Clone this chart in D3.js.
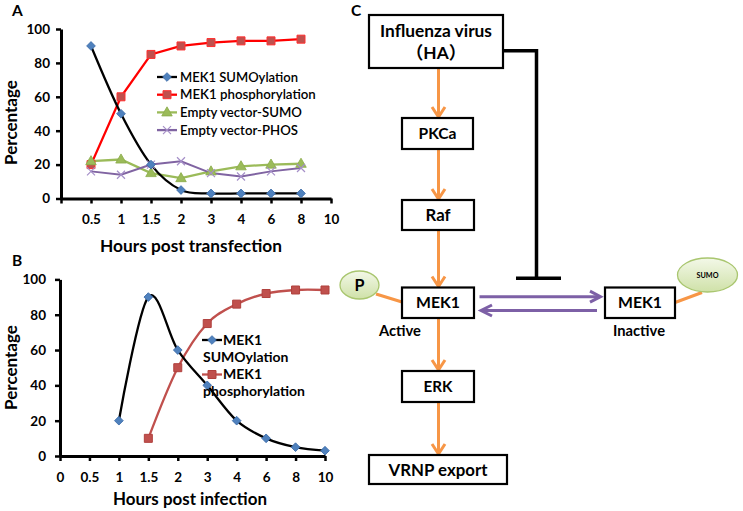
<!DOCTYPE html>
<html><head><meta charset="utf-8">
<script src="https://cdn.jsdelivr.net/npm/d3@7"></script>
<style>
body{margin:0;background:#fff;}
svg{display:block;font-family:Lato,"Noto Sans CJK SC",sans-serif;}
</style></head><body>
<svg id="c" width="743" height="511"></svg>
<script>
// ---------- DATA ----------
const catsA = ["", "0.5", "1", "1.5", "2", "3", "4", "6", "8", "10"];
const sumoA = [null, 90, 50, 20, 5, 3, 3, 3, 3, null];
const phosA = [null, 20, 60, 85, 90, 92, 93, 93, 94, null];
const evSumoA = [null, 22, 23, 15, 12, 16, 19, 20, 20.5, null];
const evPhosA = [null, 16, 14, 20, 22, 15, 13, 16, 18, null];
const legendA = ["MEK1 SUMOylation", "MEK1 phosphorylation", "Empty vector-SUMO", "Empty vector-PHOS"];

const catsB = ["0", "0.5", "1", "1.5", "2", "3", "4", "6", "8", "10"];
const sumoB = [null, null, 20, 90, 60, 40, 20, 10, 5, 3];
const phosB = [null, null, null, 10, 50, 75, 86, 92, 94, 94];
const legendB = [["MEK1", "SUMOylation"], ["MEK1", "phosphorylation"]];

const yTicks = [0, 20, 40, 60, 80, 100];
const nodeLabels = [["Influenza virus", "（HA）"], ["PKCa"], ["Raf"], ["MEK1"], ["MEK1"], ["ERK"], ["VRNP export"]];
const stateLabels = ["Active", "Inactive"];
const tagLabels = ["P", "SUMO"];

// ---------- HELPERS ----------
const svg = d3.select("#c");
const FONT = 'Lato,"Noto Sans CJK SC",sans-serif';
function fit(sel, w) {
  const n = sel.node();
  const fs = parseFloat(sel.attr("font-size"));
  const len = n.getComputedTextLength();
  if (len > 0) sel.attr("font-size", (fs * w / len).toFixed(2));
  return sel;
}
const COL = {blue:"#4f81bd", red:"#ff0000", brick:"#c0504d", green:"#9bbb59", purple:"#8064a2", orange:"#f79646", arrowP:"#7d60a6"};

function drawMarker(g, type, x, y) {
  if (type === "diamond") {
    g.append("path").attr("d", d3.symbol(d3.symbolSquare, 38)()).attr("transform", `translate(${x},${y}) rotate(45)`)
      .attr("fill", COL.blue).attr("stroke", "#3a6aa8").attr("stroke-width", 0.8);
  } else if (type === "square") {
    g.append("path").attr("d", d3.symbol(d3.symbolSquare, 64)()).attr("transform", `translate(${x},${y})`)
      .attr("fill", COL.brick).attr("stroke", "#b0403d").attr("stroke-width", 1);
  } else if (type === "square2") {
    g.append("path").attr("d", d3.symbol(d3.symbolSquare, 64)()).attr("transform", `translate(${x},${y})`)
      .attr("fill", COL.brick).attr("stroke", "#ff3030").attr("stroke-width", 1);
  } else if (type === "triangle") {
    g.append("path").attr("d", d3.symbol(d3.symbolTriangle, 48)()).attr("transform", `translate(${x},${y+0.5})`)
      .attr("fill", COL.green).attr("stroke", "#8aab4a").attr("stroke-width", 0.8);
  } else if (type === "x") {
    const s = 4;
    g.append("path").attr("d", `M${x-s},${y-s}L${x+s},${y+s}M${x-s},${y+s}L${x+s},${y-s}`)
      .attr("stroke", "#a58fc8").attr("stroke-width", 1.2).attr("fill", "none");
  }
}

function drawChart(cfg) {
  const g = svg.append("g");
  const x = d3.scalePoint().domain(cfg.cats.map((c, i) => i)).range(cfg.xr).padding(0);
  const y = d3.scaleLinear().domain([0, 100]).range(cfg.yr);
  const ax = g.append("g").attr("transform", `translate(0,${cfg.yr[0]})`)
    .call(d3.axisBottom(x).tickFormat(i => cfg.cats[i]).tickSize(5).tickSizeOuter(0).tickPadding(cfg.xPad));
  const ay = g.append("g").attr("transform", `translate(${cfg.xr[0]},0)`)
    .call(d3.axisLeft(y).tickValues(yTicks).tickSize(5).tickSizeOuter(0).tickPadding(cfg.yPad));
  [ax, ay].forEach(a => {
    a.select(".domain").attr("stroke", "#000").attr("stroke-width", 3);
    a.selectAll(".tick line").attr("stroke", "#000").attr("stroke-width", 2.5);
    a.selectAll(".tick text").attr("font-family", FONT).attr("font-size", 13.5).attr("font-weight", 700).attr("fill", "#000");
  });
  cfg.series.forEach(s => {
    const pts = s.values.map((v, i) => [i, v]).filter(d => d[1] !== null);
    const line = d3.line().x(d => x(d[0])).y(d => y(d[1])).curve(s.smooth ? d3.curveCatmullRom.alpha(0) : d3.curveLinear);
    g.append("path").datum(pts).attr("d", line).attr("fill", "none").attr("stroke", s.color).attr("stroke-width", s.width || 2.3);
  });
  cfg.series.forEach(s => {
    s.values.forEach((v, i) => { if (v !== null) drawMarker(g, s.marker, x(i), y(v)); });
  });
  const t1 = g.append("text").attr("x", cfg.xTitle[0]).attr("y", cfg.xTitle[1]).attr("text-anchor", "middle")
    .attr("font-size", 17).attr("font-weight", 700).text(cfg.xTitleText);
  fit(t1, cfg.xTitle[2]);
  const t2 = g.append("text").attr("transform", `translate(${cfg.yTitle[0]},${cfg.yTitle[1]}) rotate(-90)`).attr("text-anchor", "middle")
    .attr("font-size", 17).attr("font-weight", 700).text("Percentage");
  fit(t2, cfg.yTitle[2]);
  g.append("text").attr("x", cfg.panel[0]).attr("y", cfg.panel[1]).attr("font-size", 15.5).attr("font-weight", 700).text(cfg.panelText);
  return {g, x, y};
}

// ---------- CHART A ----------
const A = drawChart({
  cats: catsA, xr: [61, 331], yr: [198.5, 29], xPad: 10.5, yPad: 6,
  series: [
    {values: phosA, color: COL.red, marker: "square2"},
    {values: evSumoA, color: COL.green, marker: "triangle"},
    {values: evPhosA, color: COL.purple, marker: "x", width: 2},
    {values: sumoA, color: "#000", marker: "diamond", smooth: true},
  ],
  xTitle: [191, 251.5, 182], xTitleText: "Hours post transfection",
  yTitle: [16.5, 122.5, 85], panel: [12, 16], panelText: "A"
});
const legA = [{c: "#000", m: "diamond"}, {c: COL.red, m: "square2"}, {c: COL.green, m: "triangle"}, {c: COL.purple, m: "x"}];
legendA.forEach((t, i) => {
  const yy = 77 + i * 17.7;
  A.g.append("line").attr("x1", 157).attr("x2", 177).attr("y1", yy).attr("y2", yy).attr("stroke", legA[i].c).attr("stroke-width", 2.3);
  drawMarker(A.g, legA[i].m, 167, yy);
  const tx = A.g.append("text").attr("x", 180).attr("y", yy).attr("dy", "0.35em").attr("font-size", 14).attr("font-weight", 600).text(t);
  fit(tx, [118, 136, 122, 118][i]);
});

// ---------- CHART B ----------
const B = drawChart({
  cats: catsB, xr: [60, 325], yr: [456, 279.4], xPad: 11.5, yPad: 9,
  series: [
    {values: phosB, color: COL.brick, marker: "square", smooth: true},
    {values: sumoB, color: "#000", marker: "diamond", smooth: true},
  ],
  xTitle: [190, 505, 154], xTitleText: "Hours post infection",
  yTitle: [16.5, 367.5, 85], panel: [12, 266], panelText: "B"
});
const legB = [{c: "#000", m: "diamond", y: 340}, {c: COL.brick, m: "square", y: 374.5}];
legendB.forEach((t, i) => {
  const yy = legB[i].y;
  B.g.append("line").attr("x1", 202).attr("x2", 222).attr("y1", yy).attr("y2", yy).attr("stroke", legB[i].c).attr("stroke-width", 2.3);
  drawMarker(B.g, legB[i].m, 212, yy);
  B.g.append("text").attr("x", 223).attr("y", yy).attr("dy", "0.35em").attr("font-size", 14).attr("font-weight", 700).text(t[0]);
  B.g.append("text").attr("x", 203).attr("y", yy + 17).attr("dy", "0.35em").attr("font-size", 14).attr("font-weight", 700).text(t[1]);
});

// ---------- DIAGRAM C ----------
const C = svg.append("g");
C.append("text").attr("x", 351).attr("y", 16).attr("font-size", 15.5).attr("font-weight", 700).text("C");
const defs = svg.append("defs");
const gr = defs.append("linearGradient").attr("id", "gg").attr("x1", 0).attr("y1", 0).attr("x2", 0).attr("y2", 1);
gr.append("stop").attr("offset", 0).attr("stop-color", "#f3f8e8");
gr.append("stop").attr("offset", 1).attr("stop-color", "#cfe1a8");

const boxLayout = [
  {x: 369, y: 15, w: 134, h: 53, ty: [30.7, 53.3], tw: [112, null]},
  {x: 402, y: 118, w: 71, h: 31, ty: [133.5], tw: [38]},
  {x: 402, y: 200, w: 72, h: 30, ty: [215], tw: [25]},
  {x: 402, y: 287.5, w: 72, h: 30.5, ty: [302.5], tw: [44]},
  {x: 605, y: 287.5, w: 70, h: 30.5, ty: [302.5], tw: [44]},
  {x: 402, y: 371, w: 72, h: 31, ty: [386.5], tw: [29]},
  {x: 369, y: 455, w: 138, h: 29, ty: [470], tw: [99]},
];
const chain = [[0, 1], [1, 2], [2, 3], [3, 5], [5, 6]];
const ax0 = 438.5;
chain.forEach(([a, b]) => {
  const y1 = boxLayout[a].y + boxLayout[a].h, y2 = boxLayout[b].y - 1;
  C.append("line").attr("x1", ax0).attr("x2", ax0).attr("y1", y1 + 1).attr("y2", y2).attr("stroke", COL.orange).attr("stroke-width", 3);
  C.append("path").attr("d", `M${ax0 - 6.5},${y2 - 10}L${ax0},${y2}L${ax0 + 6.5},${y2 - 10}`).attr("fill", "none")
    .attr("stroke", COL.orange).attr("stroke-width", 3).attr("stroke-linejoin", "miter");
});
C.append("path").attr("d", `M503,50.7H536.5V278.3`).attr("fill", "none").attr("stroke", "#000").attr("stroke-width", 3.5);
C.append("line").attr("x1", 516).attr("x2", 561).attr("y1", 278.3).attr("y2", 278.3).attr("stroke", "#000").attr("stroke-width", 3.5);
C.append("line").attr("x1", 479.5).attr("x2", 600).attr("y1", 296.7).attr("y2", 296.7).attr("stroke", COL.arrowP).attr("stroke-width", 3);
C.append("path").attr("d", "M590,291.2L600.5,296.7L590,302.2").attr("fill", "none").attr("stroke", COL.arrowP).attr("stroke-width", 3);
C.append("line").attr("x1", 597).attr("x2", 481).attr("y1", 310.5).attr("y2", 310.5).attr("stroke", COL.arrowP).attr("stroke-width", 3);
C.append("path").attr("d", "M492,305L481,310.5L492,316").attr("fill", "none").attr("stroke", COL.arrowP).attr("stroke-width", 3);
C.append("line").attr("x1", 376).attr("y1", 294).attr("x2", 402).attr("y2", 302).attr("stroke", COL.orange).attr("stroke-width", 3);
C.append("line").attr("x1", 675).attr("y1", 302.5).attr("x2", 702).attr("y2", 292.5).attr("stroke", COL.orange).attr("stroke-width", 3);
boxLayout.forEach((b, i) => {
  C.append("rect").attr("x", b.x).attr("y", b.y).attr("width", b.w).attr("height", b.h)
    .attr("fill", "#fff").attr("stroke", "#000").attr("stroke-width", 2.2);
  let fs0 = 16;
  nodeLabels[i].forEach((t, j) => {
    const tx = C.append("text").attr("x", b.x + b.w / 2).attr("y", b.ty[j]).attr("dy", "0.35em").attr("text-anchor", "middle")
      .attr("font-size", fs0).attr("font-weight", 700).text(t);
    if (b.tw[j]) { fit(tx, b.tw[j]); fs0 = parseFloat(tx.attr("font-size")); }
  });
});
const tagLayout = [{cx: 359.5, cy: 285, rx: 19.5, ry: 14, fs: 17, tw: 10}, {cx: 707.5, cy: 275, rx: 30, ry: 17, fs: 8, tw: 22}];
tagLabels.forEach((t, i) => {
  const L = tagLayout[i];
  C.append("ellipse").attr("cx", L.cx).attr("cy", L.cy).attr("rx", L.rx).attr("ry", L.ry)
    .attr("fill", "url(#gg)").attr("stroke", "#a9c66f").attr("stroke-width", 1.3);
  const tx = C.append("text").attr("x", L.cx).attr("y", L.cy).attr("dy", "0.35em").attr("text-anchor", "middle")
    .attr("font-size", L.fs).attr("font-weight", 700).text(t);
  fit(tx, L.tw);
});
[{x: 400, y: 331, w: 42}, {x: 639, y: 331, w: 52}].forEach((p, i) => {
  const tx = C.append("text").attr("x", p.x).attr("y", p.y).attr("dy", "0.35em").attr("text-anchor", "middle")
    .attr("font-size", 14).attr("font-weight", 700).text(stateLabels[i]);
  fit(tx, p.w);
});
</script>
</body></html>
